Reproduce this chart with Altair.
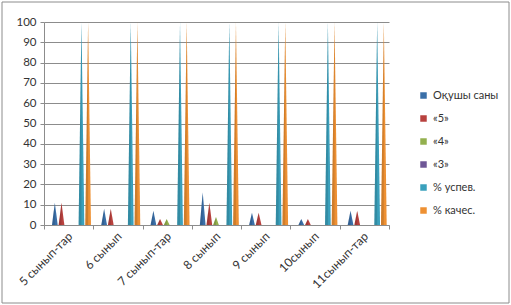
import json
import altair as alt
import pandas as pd

categories = ["5 сынып-тар", "6 сынып", "7 сынып-тар", "8 сынып", "9 сынып", "10сынып", "11сынып-тар"]
series = ["Оқушы саны", "«5»", "«4»", "«3»", "% успев.", "% качес."]
colors = ["#3A6FA8", "#B8413E", "#93B04E", "#6E5796", "#3AA0BC", "#EE9032"]

students = [11, 8, 7, 16, 6, 3, 7]
grade5 = [11, 8, 3, 11, 6, 3, 7]
grade4 = [0, 0, 3, 4, 0, 0, 0]
grade3 = [0, 0, 0, 0, 0, 0, 0]
success = [100, 100, 100, 100, 100, 100, 100]
quality = [100, 100, 100, 100, 100, 100, 100]
values = [students, grade5, grade4, grade3, success, quality]

# cone geometry in category units (one category = 1)
first_center = 0.22
step = 0.135
half_w = 0.058

rows = []
for i, cat in enumerate(categories):
    for j, s in enumerate(series):
        v = values[j][i]
        c = i + first_center + j * step
        cid = f"{i}-{j}"
        rows += [
            {"x": c - half_w, "y": 0, "cone": cid, "series": s, "part": "L"},
            {"x": c, "y": v, "cone": cid, "series": s, "part": "T"},
            {"x": c + half_w, "y": 0, "cone": cid, "series": s, "part": "R"},
        ]
df = pd.DataFrame(rows)

label_expr = "datum.value < 7 ? " + json.dumps(categories, ensure_ascii=False) + "[datum.value] : ''"

x_scale = alt.Scale(domain=[0, 7], nice=False, zero=False)
y_scale = alt.Scale(domain=[0, 100], nice=False)

x_axis = alt.Axis(
    values=list(range(8)), labelExpr=label_expr, labelAngle=315, labelAlign="right",
    labelBaseline="middle", labelOffset=26, labelPadding=5, tickSize=4, grid=False,
    title=None, labelFontSize=12, labelColor="#333333", domainColor="#8c8c8c",
    tickColor="#8c8c8c", labelFont="Lato", labelOverlap=False,
)
y_axis = alt.Axis(
    values=list(range(0, 101, 10)), grid=True, gridColor="#8c8c8c", tickSize=4,
    title=None, labelFontSize=11.5, labelColor="#333333", domainColor="#8c8c8c",
    tickColor="#8c8c8c", labelPadding=4, labelFont="Lato", labelOverlap=False,
)

cones = alt.Chart(df).mark_area(line=False, interpolate="linear").encode(
    x=alt.X("x:Q", scale=x_scale, axis=x_axis),
    y=alt.Y("y:Q", scale=y_scale, axis=y_axis, stack=None),
    y2=alt.datum(0),
    detail="cone:N",
    color=alt.Color(
        "series:N",
        scale=alt.Scale(domain=series, range=colors),
        sort=series,
        legend=alt.Legend(
            orient="none", legendX=374, legendY=68, title=None, symbolType="square",
            symbolSize=42, labelFontSize=11, rowPadding=11, labelOffset=4,
            labelFont="Lato", labelColor="#333333", symbolStrokeWidth=0,
        ),
    ),
)

# darker left half of every cone (a flat hint of the 3D shading)
shading = alt.Chart(df).transform_calculate(
    xs="datum.part == 'R' ? datum.x - " + str(half_w) + " + 0.0001 : datum.x"
).mark_area(color="black", opacity=0.13, interpolate="linear").encode(
    x=alt.X("xs:Q", scale=x_scale, axis=x_axis),
    y=alt.Y("y:Q", scale=y_scale, axis=y_axis, stack=None),
    y2=alt.datum(0),
    detail="cone:N",
)

border = alt.Chart(pd.DataFrame({"a": [0]})).mark_rect(
    fillOpacity=0, stroke="#8c8c8c", strokeWidth=1
).encode(
    x=alt.value(-42), x2=alt.value(465), y=alt.value(-20), y2=alt.value(281)
)

chart = alt.layer(border, cones, shading).properties(
    width=345, height=203,
    autosize=alt.AutoSizeParams(type="none"),
    padding={"left": 44, "top": 22, "right": 122, "bottom": 80},
    background="white",
).configure_view(stroke=None)

chart.save("out.html", embed_options={"renderer": "svg", "actions": False})
